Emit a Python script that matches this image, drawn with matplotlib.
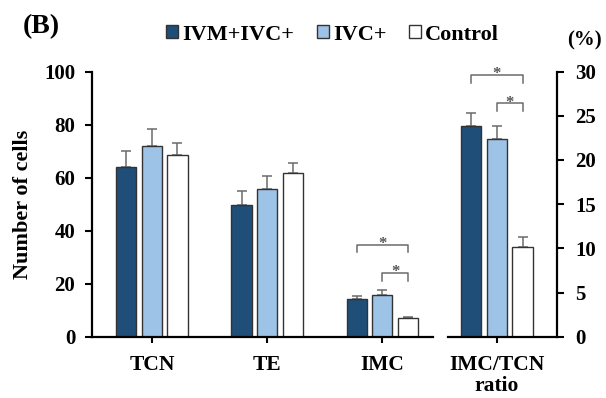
import matplotlib.pyplot as plt
import numpy as np
from matplotlib.patches import Patch

plt.rcParams['font.family'] = ['Liberation Serif', 'DejaVu Serif']
plt.rcParams['font.weight'] = 'bold'

groups = ['IVM+IVC+', 'IVC+', 'Control']
colors = ['#1f4e79', '#9dc3e6', '#ffffff']

cells_cats = ['TCN', 'TE', 'IMC']
cells_mean = {
    'IVM+IVC+': [64.0, 49.6, 14.3],
    'IVC+': [71.8, 55.6, 15.8],
    'Control': [68.5, 61.7, 6.9],
}
cells_err = {
    'IVM+IVC+': [6.1, 5.4, 1.1],
    'IVC+': [6.5, 5.0, 1.8],
    'Control': [4.5, 3.8, 0.6],
}

ratio_cats = ['IMC/TCN\nratio']
ratio_mean = {'IVM+IVC+': [23.8], 'IVC+': [22.4], 'Control': [10.1]}
ratio_err = {'IVM+IVC+': [1.5], 'IVC+': [1.5], 'Control': [1.2]}

width = 0.175
step = 0.222
edge = '#333333'
errc = '#6b6b6b'

fig = plt.figure(figsize=(6.06, 3.98), dpi=100)
ax = fig.add_axes([0.1518, 0.154, 0.5627, 0.666])
ax2 = fig.add_axes([0.739, 0.154, 0.180, 0.666])


def draw(a, cats, means, errs):
    x = np.arange(len(cats))
    for i, g in enumerate(groups):
        xi = x + (i - 1) * step
        a.bar(xi, means[g], width, color=colors[i], edgecolor=edge, linewidth=1, zorder=2)
        a.errorbar(xi, means[g], yerr=[np.zeros(len(cats)), errs[g]], fmt='none',
                   ecolor=errc, elinewidth=1.1, capsize=3.5, capthick=1.1, zorder=1)
    a.set_xticks(x)
    a.set_xticklabels(cats, fontsize=15.5, fontweight='bold', linespacing=1.1)
    a.spines['top'].set_visible(False)
    a.tick_params(axis='x', length=4, width=1.5, pad=9)
    a.tick_params(axis='y', labelsize=15, length=5, width=1.5, pad=7)
    for s in a.spines.values():
        s.set_linewidth(1.6)


draw(ax, cells_cats, cells_mean, cells_err)
ax.spines['right'].set_visible(False)
ax.set_xlim(-0.52, 2.44)
ax.set_ylim(0, 100)
ax.set_yticks(np.arange(0, 101, 20))
ax.set_ylabel('Number of cells', fontsize=16, fontweight='bold')
ax.yaxis.set_label_coords(-0.173, 0.5)

draw(ax2, ratio_cats, ratio_mean, ratio_err)
ax2.spines['left'].set_visible(False)
ax2.set_xlim(-0.426, 0.52)
ax2.set_ylim(0, 30)
ax2.set_yticks(np.arange(0, 31, 5))
ax2.yaxis.tick_right()
ax2.tick_params(axis='y', pad=8)


def bracket(a, x1, x2, y, drop):
    a.plot([x1, x1, x2, x2], [y - drop, y, y, y - drop], color=errc, lw=1.1, clip_on=False)
    a.annotate('*', xy=((x1 + x2) / 2, y), xytext=(0, -2.2), textcoords='offset points',
               ha='center', va='baseline', fontsize=12, color='#555555',
               annotation_clip=False)


bracket(ax, 2 - step, 2 + step, 34.6, 2.8)
bracket(ax, 2, 2 + step, 24.0, 2.8)
bracket(ax2, -step, step, 29.6, 0.9)
bracket(ax2, 0, step, 26.4, 0.9)

handles = [Patch(facecolor=c, edgecolor=edge, linewidth=1) for c in colors]
fig.legend(handles, groups, loc='center', bbox_to_anchor=(0.549, 0.913), ncol=3,
           frameon=False, handlelength=0.54, handleheight=0.54,
           handletextpad=0.2, columnspacing=1.0, prop={'weight': 'bold', 'size': 16})

fig.text(0.038, 0.933, '(B)', fontsize=20, fontweight='bold', va='center')
fig.text(0.965, 0.899, '(%)', fontsize=15, fontweight='bold', va='center', ha='center')

fig.savefig('out.png', dpi=100)
